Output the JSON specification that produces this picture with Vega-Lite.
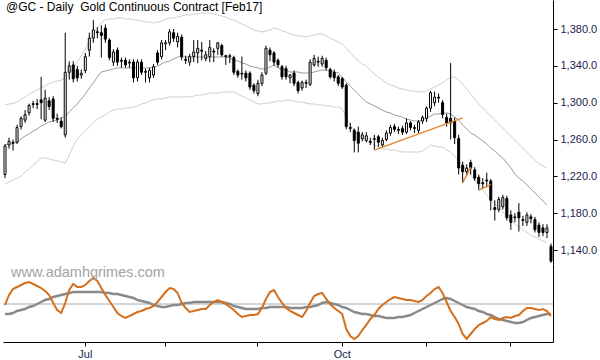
{
"$schema": "https://vega.github.io/schema/vega-lite/v6.json",
"padding": 0,
"spacing": 0,
"background": "white",
"config": {"view": {"stroke": null}, "font": "Liberation Sans", "axis": {"labelFont": "Liberation Sans", "labelFontSize": 11, "labelColor": "#22224f", "domainColor": "#000", "tickColor": "#000", "grid": false, "title": null}},
"datasets": {
"trend": [
{"seg":"a","d":"2016-10-13","p":1248.5},{"seg":"a","d":"2016-11-14","p":1283.5},
{"seg":"b","d":"2016-11-14","p":1213},{"seg":"b","d":"2016-11-16","p":1230},
{"seg":"c","d":"2016-11-18","p":1205},{"seg":"c","d":"2016-11-23","p":1211}
],
"bars": [
{"d":"2016-06-03","o":1222,"h":1255,"lo":1218,"c":1253,"mid":1254.0,"up":1297.5,"dn":1211.7,"k1":-1,"k2":-10},
{"d":"2016-06-06","o":1254,"h":1262,"lo":1250,"c":1258,"mid":1255.1,"up":1298.6,"dn":1213.8,"k1":9,"k2":-10},
{"d":"2016-06-07","o":1257,"h":1260,"lo":1248,"c":1256,"mid":1255.7,"up":1299.1,"dn":1216.0,"k1":15,"k2":-9},
{"d":"2016-06-08","o":1257,"h":1276,"lo":1255,"c":1273,"mid":1257.3,"up":1300.7,"dn":1218.2,"k1":17,"k2":-7},
{"d":"2016-06-09","o":1274,"h":1285,"lo":1271,"c":1283,"mid":1260.5,"up":1304.0,"dn":1220.4,"k1":19,"k2":-6},
{"d":"2016-06-10","o":1281,"h":1292,"lo":1278,"c":1287,"mid":1263.8,"up":1306.2,"dn":1224.7,"k1":21,"k2":-5},
{"d":"2016-06-13","o":1289,"h":1299,"lo":1286,"c":1297,"mid":1266.0,"up":1309.4,"dn":1228.0,"k1":22,"k2":-3},
{"d":"2016-06-14","o":1298,"h":1302,"lo":1294,"c":1299,"mid":1269.2,"up":1311.6,"dn":1232.3,"k1":20,"k2":-2},
{"d":"2016-06-15","o":1299,"h":1304,"lo":1293,"c":1298,"mid":1271.4,"up":1313.8,"dn":1235.6,"k1":18,"k2":0},
{"d":"2016-06-16","o":1303,"h":1328,"lo":1282,"c":1300,"mid":1274.7,"up":1315.9,"dn":1239.9,"k1":16,"k2":2},
{"d":"2016-06-17","o":1281,"h":1314,"lo":1279,"c":1305,"mid":1276.8,"up":1318.1,"dn":1239.9,"k1":13,"k2":4},
{"d":"2016-06-20","o":1302,"h":1306,"lo":1292,"c":1296,"mid":1279.0,"up":1320.3,"dn":1238.8,"k1":9,"k2":5},
{"d":"2016-06-21","o":1304,"h":1307,"lo":1279,"c":1283,"mid":1280.1,"up":1322.4,"dn":1237.7,"k1":1,"k2":7},
{"d":"2016-06-22","o":1283,"h":1288,"lo":1278,"c":1282,"mid":1281.2,"up":1323.5,"dn":1236.7,"k1":-6,"k2":8},
{"d":"2016-06-23","o":1280,"h":1284,"lo":1272,"c":1274,"mid":1283.4,"up":1324.6,"dn":1235.6,"k1":-9,"k2":9},
{"d":"2016-06-24","o":1265,"h":1376,"lo":1262,"c":1333,"mid":1285.5,"up":1326.8,"dn":1234.5,"k1":1,"k2":10},
{"d":"2016-06-27","o":1333,"h":1345,"lo":1325,"c":1340,"mid":1289.9,"up":1331.1,"dn":1243.2,"k1":14,"k2":11},
{"d":"2016-06-28","o":1341,"h":1345,"lo":1322,"c":1326,"mid":1294.2,"up":1337.7,"dn":1252.9,"k1":20,"k2":12},
{"d":"2016-06-29","o":1336,"h":1340,"lo":1323,"c":1327,"mid":1298.6,"up":1344.2,"dn":1260.5,"k1":17,"k2":12},
{"d":"2016-06-30","o":1330,"h":1336,"lo":1326,"c":1332,"mid":1304.0,"up":1350.7,"dn":1264.9,"k1":17,"k2":12},
{"d":"2016-07-01","o":1335,"h":1354,"lo":1332,"c":1350,"mid":1309.4,"up":1358.3,"dn":1269.2,"k1":19,"k2":12},
{"d":"2016-07-05","o":1357,"h":1376,"lo":1350,"c":1370,"mid":1315.9,"up":1367.0,"dn":1273.6,"k1":23,"k2":12},
{"d":"2016-07-06","o":1370,"h":1390,"lo":1365,"c":1379,"mid":1321.4,"up":1375.7,"dn":1277.9,"k1":26,"k2":12},
{"d":"2016-07-07","o":1377,"h":1382,"lo":1370,"c":1376,"mid":1327.9,"up":1381.1,"dn":1282.3,"k1":23,"k2":12},
{"d":"2016-07-08","o":1376,"h":1384,"lo":1349,"c":1373,"mid":1333.3,"up":1386.5,"dn":1284.4,"k1":16,"k2":12},
{"d":"2016-07-11","o":1381,"h":1385,"lo":1365,"c":1369,"mid":1334.4,"up":1389.8,"dn":1286.6,"k1":9,"k2":11},
{"d":"2016-07-12","o":1368,"h":1370,"lo":1346,"c":1349,"mid":1335.5,"up":1390.9,"dn":1289.9,"k1":3,"k2":11},
{"d":"2016-07-13","o":1344,"h":1358,"lo":1340,"c":1355,"mid":1336.6,"up":1390.9,"dn":1292.0,"k1":-3,"k2":10},
{"d":"2016-07-14","o":1357,"h":1360,"lo":1340,"c":1344,"mid":1337.7,"up":1392.0,"dn":1293.1,"k1":-9,"k2":10},
{"d":"2016-07-15","o":1346,"h":1349,"lo":1338,"c":1345,"mid":1337.7,"up":1392.0,"dn":1293.1,"k1":-12,"k2":9},
{"d":"2016-07-18","o":1346,"h":1349,"lo":1338,"c":1341,"mid":1337.7,"up":1390.9,"dn":1294.2,"k1":-14,"k2":8},
{"d":"2016-07-19","o":1343,"h":1347,"lo":1338,"c":1344,"mid":1337.7,"up":1390.9,"dn":1294.2,"k1":-12,"k2":7},
{"d":"2016-07-20","o":1344,"h":1347,"lo":1322,"c":1327,"mid":1337.7,"up":1389.8,"dn":1295.3,"k1":-10,"k2":6},
{"d":"2016-07-21","o":1327,"h":1347,"lo":1323,"c":1344,"mid":1337.7,"up":1389.8,"dn":1296.4,"k1":-8,"k2":4},
{"d":"2016-07-22","o":1344,"h":1347,"lo":1330,"c":1333,"mid":1337.7,"up":1388.7,"dn":1298.6,"k1":-7,"k2":3},
{"d":"2016-07-25","o":1333,"h":1337,"lo":1322,"c":1334,"mid":1337.7,"up":1387.6,"dn":1299.6,"k1":-5,"k2":2},
{"d":"2016-07-26","o":1327,"h":1338,"lo":1322,"c":1335,"mid":1337.7,"up":1387.6,"dn":1301.8,"k1":-4,"k2":1},
{"d":"2016-07-27","o":1330,"h":1342,"lo":1327,"c":1339,"mid":1338.7,"up":1386.5,"dn":1302.9,"k1":-2,"k2":-1},
{"d":"2016-07-28","o":1354,"h":1357,"lo":1341,"c":1344,"mid":1339.8,"up":1387.6,"dn":1304.0,"k1":2,"k2":-2},
{"d":"2016-07-29","o":1350,"h":1368,"lo":1347,"c":1365,"mid":1342.0,"up":1388.7,"dn":1304.0,"k1":7,"k2":-3},
{"d":"2016-08-01","o":1364,"h":1368,"lo":1357,"c":1365,"mid":1344.2,"up":1390.9,"dn":1305.1,"k1":12,"k2":-3},
{"d":"2016-08-02","o":1365,"h":1380,"lo":1362,"c":1377,"mid":1345.3,"up":1392.0,"dn":1306.2,"k1":16,"k2":-2},
{"d":"2016-08-03","o":1376,"h":1380,"lo":1366,"c":1370,"mid":1347.4,"up":1392.0,"dn":1306.2,"k1":15,"k2":-1},
{"d":"2016-08-04","o":1366,"h":1376,"lo":1360,"c":1372,"mid":1349.6,"up":1393.0,"dn":1306.2,"k1":11,"k2":-1},
{"d":"2016-08-05","o":1371,"h":1374,"lo":1346,"c":1350,"mid":1349.6,"up":1394.1,"dn":1306.2,"k1":1,"k2":0},
{"d":"2016-08-08","o":1347,"h":1351,"lo":1342,"c":1346,"mid":1349.6,"up":1395.2,"dn":1306.2,"k1":-4,"k2":1},
{"d":"2016-08-09","o":1344,"h":1353,"lo":1340,"c":1350,"mid":1349.6,"up":1395.2,"dn":1306.2,"k1":-8,"k2":1},
{"d":"2016-08-10","o":1350,"h":1368,"lo":1344,"c":1355,"mid":1349.6,"up":1396.3,"dn":1307.2,"k1":-7,"k2":2},
{"d":"2016-08-11","o":1354,"h":1368,"lo":1343,"c":1359,"mid":1349.6,"up":1396.3,"dn":1308.3,"k1":-6,"k2":2},
{"d":"2016-08-12","o":1357,"h":1366,"lo":1346,"c":1356,"mid":1349.6,"up":1397.4,"dn":1308.3,"k1":-5,"k2":2},
{"d":"2016-08-15","o":1348,"h":1356,"lo":1345,"c":1352,"mid":1349.6,"up":1397.4,"dn":1309.4,"k1":-5,"k2":2},
{"d":"2016-08-16","o":1350,"h":1368,"lo":1344,"c":1360,"mid":1349.6,"up":1397.4,"dn":1310.5,"k1":-1,"k2":2},
{"d":"2016-08-17","o":1356,"h":1359,"lo":1344,"c":1355,"mid":1349.6,"up":1396.3,"dn":1310.5,"k1":2,"k2":2},
{"d":"2016-08-18","o":1359,"h":1366,"lo":1352,"c":1365,"mid":1349.6,"up":1395.2,"dn":1310.5,"k1":4,"k2":2},
{"d":"2016-08-19","o":1362,"h":1364,"lo":1350,"c":1352,"mid":1349.6,"up":1394.1,"dn":1311.6,"k1":2,"k2":2},
{"d":"2016-08-22","o":1351,"h":1352,"lo":1341,"c":1350,"mid":1349.6,"up":1393.0,"dn":1311.6,"k1":0,"k2":1},
{"d":"2016-08-23","o":1350,"h":1353,"lo":1343,"c":1351,"mid":1348.5,"up":1390.9,"dn":1311.6,"k1":-3,"k2":0},
{"d":"2016-08-24","o":1349,"h":1351,"lo":1330,"c":1333,"mid":1346.3,"up":1389.8,"dn":1311.6,"k1":-6,"k2":-2},
{"d":"2016-08-25","o":1334,"h":1336,"lo":1327,"c":1330,"mid":1345.3,"up":1387.6,"dn":1309.4,"k1":-10,"k2":-3},
{"d":"2016-08-26","o":1331,"h":1350,"lo":1325,"c":1332,"mid":1343.1,"up":1385.4,"dn":1307.2,"k1":-13,"k2":-4},
{"d":"2016-08-29","o":1332,"h":1335,"lo":1323,"c":1327,"mid":1342.0,"up":1383.3,"dn":1305.1,"k1":-12,"k2":-5},
{"d":"2016-08-30","o":1332,"h":1334,"lo":1314,"c":1317,"mid":1339.8,"up":1381.1,"dn":1302.9,"k1":-11,"k2":-5},
{"d":"2016-08-31","o":1319,"h":1321,"lo":1310,"c":1313,"mid":1338.7,"up":1378.9,"dn":1300.7,"k1":-11,"k2":-5},
{"d":"2016-09-01","o":1310,"h":1325,"lo":1307,"c":1321,"mid":1337.7,"up":1377.8,"dn":1298.6,"k1":-10,"k2":-5},
{"d":"2016-09-02","o":1321,"h":1333,"lo":1318,"c":1330,"mid":1336.6,"up":1376.7,"dn":1298.6,"k1":-4,"k2":-4},
{"d":"2016-09-06","o":1332,"h":1362,"lo":1330,"c":1359,"mid":1336.6,"up":1377.8,"dn":1299.6,"k1":5,"k2":-4},
{"d":"2016-09-07","o":1357,"h":1360,"lo":1345,"c":1352,"mid":1338.7,"up":1378.9,"dn":1299.6,"k1":12,"k2":-3},
{"d":"2016-09-08","o":1354,"h":1356,"lo":1340,"c":1344,"mid":1340.9,"up":1381.1,"dn":1300.7,"k1":14,"k2":-3},
{"d":"2016-09-09","o":1346,"h":1348,"lo":1338,"c":1341,"mid":1337.7,"up":1380.0,"dn":1301.8,"k1":7,"k2":-3},
{"d":"2016-09-12","o":1339,"h":1341,"lo":1325,"c":1328,"mid":1336.6,"up":1377.8,"dn":1301.8,"k1":1,"k2":-3},
{"d":"2016-09-13","o":1337,"h":1340,"lo":1325,"c":1328,"mid":1335.5,"up":1376.7,"dn":1302.9,"k1":-4,"k2":-3},
{"d":"2016-09-14","o":1327,"h":1331,"lo":1321,"c":1330,"mid":1333.3,"up":1374.6,"dn":1302.9,"k1":-7,"k2":-4},
{"d":"2016-09-15","o":1332,"h":1335,"lo":1318,"c":1321,"mid":1333.3,"up":1373.5,"dn":1301.8,"k1":-9,"k2":-4},
{"d":"2016-09-16","o":1322,"h":1324,"lo":1310,"c":1313,"mid":1333.3,"up":1372.4,"dn":1300.7,"k1":-11,"k2":-4},
{"d":"2016-09-19","o":1316,"h":1324,"lo":1313,"c":1322,"mid":1332.2,"up":1372.4,"dn":1300.7,"k1":-13,"k2":-4},
{"d":"2016-09-20","o":1321,"h":1325,"lo":1316,"c":1322,"mid":1332.2,"up":1371.3,"dn":1299.6,"k1":-7,"k2":-3},
{"d":"2016-09-21","o":1320,"h":1347,"lo":1318,"c":1344,"mid":1332.2,"up":1372.4,"dn":1298.6,"k1":1,"k2":-3},
{"d":"2016-09-22","o":1341,"h":1352,"lo":1339,"c":1348,"mid":1333.3,"up":1373.5,"dn":1298.6,"k1":8,"k2":-2},
{"d":"2016-09-23","o":1345,"h":1350,"lo":1339,"c":1344,"mid":1334.4,"up":1374.6,"dn":1297.5,"k1":10,"k2":-1},
{"d":"2016-09-26","o":1342,"h":1351,"lo":1339,"c":1348,"mid":1335.5,"up":1374.6,"dn":1297.5,"k1":11,"k2":1},
{"d":"2016-09-27","o":1346,"h":1349,"lo":1335,"c":1338,"mid":1335.5,"up":1372.4,"dn":1296.4,"k1":5,"k2":2},
{"d":"2016-09-28","o":1336,"h":1338,"lo":1326,"c":1328,"mid":1334.4,"up":1370.2,"dn":1296.4,"k1":0,"k2":1},
{"d":"2016-09-29","o":1333,"h":1336,"lo":1323,"c":1327,"mid":1333.3,"up":1368.1,"dn":1295.3,"k1":-4,"k2":0},
{"d":"2016-09-30","o":1328,"h":1330,"lo":1318,"c":1321,"mid":1332.2,"up":1365.9,"dn":1295.3,"k1":-7,"k2":-1},
{"d":"2016-10-03","o":1326,"h":1328,"lo":1315,"c":1317,"mid":1327.9,"up":1363.7,"dn":1293.1,"k1":-10,"k2":-3},
{"d":"2016-10-04","o":1319,"h":1321,"lo":1271,"c":1274,"mid":1322.4,"up":1359.4,"dn":1284.4,"k1":-25,"k2":-4},
{"d":"2016-10-05","o":1273,"h":1278,"lo":1268,"c":1272,"mid":1318.1,"up":1353.9,"dn":1275.8,"k1":-32,"k2":-6},
{"d":"2016-10-06","o":1270,"h":1272,"lo":1246,"c":1259,"mid":1313.8,"up":1349.6,"dn":1270.3,"k1":-35,"k2":-8},
{"d":"2016-10-07","o":1268,"h":1274,"lo":1246,"c":1256,"mid":1309.4,"up":1345.3,"dn":1264.9,"k1":-32,"k2":-9},
{"d":"2016-10-10","o":1261,"h":1268,"lo":1258,"c":1265,"mid":1305.1,"up":1342.0,"dn":1261.6,"k1":-26,"k2":-10},
{"d":"2016-10-11","o":1259,"h":1268,"lo":1257,"c":1264,"mid":1300.7,"up":1339.8,"dn":1258.4,"k1":-21,"k2":-10},
{"d":"2016-10-12","o":1258,"h":1262,"lo":1254,"c":1257,"mid":1298.6,"up":1335.5,"dn":1256.2,"k1":-15,"k2":-11},
{"d":"2016-10-13","o":1260,"h":1265,"lo":1249,"c":1261,"mid":1296.4,"up":1331.1,"dn":1254.0,"k1":-11,"k2":-12},
{"d":"2016-10-14","o":1263,"h":1265,"lo":1252,"c":1257,"mid":1294.2,"up":1327.9,"dn":1251.9,"k1":-5,"k2":-12},
{"d":"2016-10-17","o":1254,"h":1262,"lo":1252,"c":1259,"mid":1292.0,"up":1324.6,"dn":1249.7,"k1":-1,"k2":-13},
{"d":"2016-10-18","o":1260,"h":1270,"lo":1258,"c":1267,"mid":1289.9,"up":1321.4,"dn":1249.7,"k1":2,"k2":-14},
{"d":"2016-10-19","o":1267,"h":1276,"lo":1264,"c":1273,"mid":1288.8,"up":1319.2,"dn":1248.6,"k1":5,"k2":-14},
{"d":"2016-10-20","o":1274,"h":1277,"lo":1268,"c":1271,"mid":1286.6,"up":1318.1,"dn":1248.6,"k1":7,"k2":-14},
{"d":"2016-10-21","o":1271,"h":1274,"lo":1266,"c":1270,"mid":1285.5,"up":1315.9,"dn":1247.5,"k1":6,"k2":-13},
{"d":"2016-10-24","o":1272,"h":1275,"lo":1265,"c":1268,"mid":1284.4,"up":1314.8,"dn":1246.4,"k1":5,"k2":-13},
{"d":"2016-10-25","o":1268,"h":1283,"lo":1266,"c":1278,"mid":1282.3,"up":1313.8,"dn":1246.4,"k1":4,"k2":-12},
{"d":"2016-10-26","o":1278,"h":1280,"lo":1270,"c":1273,"mid":1281.2,"up":1312.7,"dn":1246.4,"k1":4,"k2":-11},
{"d":"2016-10-27","o":1273,"h":1276,"lo":1267,"c":1272,"mid":1280.1,"up":1312.7,"dn":1246.4,"k1":3,"k2":-9},
{"d":"2016-10-28","o":1270,"h":1281,"lo":1267,"c":1279,"mid":1280.1,"up":1311.6,"dn":1246.4,"k1":2,"k2":-7},
{"d":"2016-10-31","o":1280,"h":1286,"lo":1277,"c":1284,"mid":1281.2,"up":1311.6,"dn":1247.5,"k1":4,"k2":-5},
{"d":"2016-11-01","o":1283,"h":1296,"lo":1279,"c":1294,"mid":1283.4,"up":1312.7,"dn":1250.8,"k1":8,"k2":-3},
{"d":"2016-11-02","o":1294,"h":1313,"lo":1290,"c":1311,"mid":1285.5,"up":1314.8,"dn":1254.0,"k1":11,"k2":-1},
{"d":"2016-11-03","o":1300,"h":1312,"lo":1296,"c":1306,"mid":1287.7,"up":1317.0,"dn":1252.9,"k1":15,"k2":1},
{"d":"2016-11-04","o":1306,"h":1310,"lo":1300,"c":1305,"mid":1287.7,"up":1319.2,"dn":1251.9,"k1":17,"k2":3},
{"d":"2016-11-07","o":1300,"h":1303,"lo":1283,"c":1287,"mid":1288.8,"up":1321.4,"dn":1251.9,"k1":11,"k2":5},
{"d":"2016-11-08","o":1284,"h":1288,"lo":1274,"c":1278,"mid":1288.8,"up":1324.6,"dn":1248.6,"k1":2,"k2":6},
{"d":"2016-11-09","o":1283,"h":1343,"lo":1260,"c":1278,"mid":1287.7,"up":1327.9,"dn":1246.4,"k1":-7,"k2":5},
{"d":"2016-11-10","o":1280,"h":1284,"lo":1255,"c":1262,"mid":1284.4,"up":1327.9,"dn":1242.1,"k1":-13,"k2":3},
{"d":"2016-11-11","o":1261,"h":1265,"lo":1222,"c":1229,"mid":1281.2,"up":1324.6,"dn":1236.7,"k1":-20,"k2":1},
{"d":"2016-11-14","o":1232,"h":1236,"lo":1213,"c":1225,"mid":1275.8,"up":1320.3,"dn":1232.3,"k1":-30,"k2":-1},
{"d":"2016-11-15","o":1225,"h":1233,"lo":1220,"c":1229,"mid":1271.4,"up":1314.8,"dn":1226.9,"k1":-35,"k2":-3},
{"d":"2016-11-16","o":1235,"h":1238,"lo":1222,"c":1229,"mid":1267.1,"up":1309.4,"dn":1221.4,"k1":-30,"k2":-4},
{"d":"2016-11-17","o":1227,"h":1230,"lo":1215,"c":1218,"mid":1264.9,"up":1304.0,"dn":1216.0,"k1":-25,"k2":-5},
{"d":"2016-11-18","o":1219,"h":1222,"lo":1205,"c":1212,"mid":1261.6,"up":1298.6,"dn":1210.6,"k1":-21,"k2":-7},
{"d":"2016-11-21","o":1213,"h":1218,"lo":1207,"c":1212,"mid":1258.4,"up":1294.2,"dn":1205.2,"k1":-19,"k2":-8},
{"d":"2016-11-22","o":1216,"h":1224,"lo":1208,"c":1215,"mid":1255.1,"up":1289.9,"dn":1199.7,"k1":-17,"k2":-10},
{"d":"2016-11-23","o":1215,"h":1217,"lo":1183,"c":1194,"mid":1250.8,"up":1285.5,"dn":1194.3,"k1":-13,"k2":-11},
{"d":"2016-11-25","o":1186,"h":1194,"lo":1172,"c":1184,"mid":1247.5,"up":1281.2,"dn":1190.0,"k1":-15,"k2":-13},
{"d":"2016-11-28","o":1184,"h":1198,"lo":1181,"c":1195,"mid":1243.2,"up":1276.8,"dn":1185.6,"k1":-16,"k2":-15},
{"d":"2016-11-29","o":1187,"h":1200,"lo":1184,"c":1197,"mid":1239.9,"up":1272.5,"dn":1181.3,"k1":-14,"k2":-16},
{"d":"2016-11-30","o":1196,"h":1199,"lo":1172,"c":1175,"mid":1234.5,"up":1268.2,"dn":1176.9,"k1":-13,"k2":-17},
{"d":"2016-12-01","o":1178,"h":1183,"lo":1162,"c":1170,"mid":1229.1,"up":1263.8,"dn":1172.6,"k1":-14,"k2":-18},
{"d":"2016-12-02","o":1175,"h":1180,"lo":1170,"c":1176,"mid":1222.5,"up":1259.5,"dn":1168.2,"k1":-12,"k2":-19},
{"d":"2016-12-05","o":1181,"h":1191,"lo":1160,"c":1175,"mid":1218.2,"up":1255.1,"dn":1165.0,"k1":-11,"k2":-19},
{"d":"2016-12-06","o":1173,"h":1177,"lo":1166,"c":1172,"mid":1214.9,"up":1250.8,"dn":1161.7,"k1":-7,"k2":-18},
{"d":"2016-12-07","o":1170,"h":1181,"lo":1166,"c":1178,"mid":1210.6,"up":1246.4,"dn":1159.5,"k1":-4,"k2":-16},
{"d":"2016-12-08","o":1176,"h":1179,"lo":1169,"c":1174,"mid":1206.3,"up":1242.1,"dn":1156.3,"k1":-4,"k2":-14},
{"d":"2016-12-09","o":1173,"h":1176,"lo":1159,"c":1162,"mid":1201.9,"up":1237.7,"dn":1154.1,"k1":-5,"k2":-13},
{"d":"2016-12-12","o":1167,"h":1170,"lo":1154,"c":1159,"mid":1197.6,"up":1233.4,"dn":1151.9,"k1":-6,"k2":-12},
{"d":"2016-12-13","o":1164,"h":1168,"lo":1155,"c":1159,"mid":1193.2,"up":1231.2,"dn":1149.8,"k1":-5,"k2":-11},
{"d":"2016-12-14","o":1159,"h":1168,"lo":1153,"c":1164,"mid":1188.9,"up":1229.1,"dn":1147.6,"k1":-7,"k2":-10},
{"d":"2016-12-15","o":1144,"h":1147,"lo":1126,"c":1128,"mid":null,"up":null,"dn":null,"k1":-12,"k2":-10}
]
},
"vconcat": [
{
"width": 550,
"height": 264,
"title": {"text": "@GC - Daily\u00a0 Gold Continuous Contract [Feb17]", "anchor": "start", "frame": "group", "offset": -14, "dx": 3, "fontSize": 12, "fontWeight": "normal", "font": "Liberation Sans", "color": "#000"},
"data": {"name": "bars"},
"encoding": {"x": {"field": "d", "type": "ordinal", "scale": {"type": "band", "paddingInner": 0, "paddingOuter": 0}, "axis": null}},
"layer": [
{"mark": {"type": "line", "color": "#cfcfcf", "strokeWidth": 1}, "encoding": {"y": {"field": "up", "type": "quantitative", "scale": {"domain": [1124.8, 1411.5], "nice": false, "zero": false}, "axis": {"orient": "right", "values": [1140,1160,1180,1200,1220,1240,1260,1280,1300,1320,1340,1360,1380,1400], "labelExpr": "datum.value % 40 == 0 ? '' : format(datum.value, ',.1f')", "labelOverlap": false, "tickSize": 4, "labelPadding": 3, "title": null}}}},
{"mark": {"type": "line", "color": "#cfcfcf", "strokeWidth": 1}, "encoding": {"y": {"field": "dn", "type": "quantitative"}}},
{"mark": {"type": "line", "color": "#9c9c9c", "strokeWidth": 1}, "encoding": {"y": {"field": "mid", "type": "quantitative"}}},
{"mark": {"type": "rule", "color": "#000", "strokeWidth": 1}, "encoding": {"y": {"field": "lo", "type": "quantitative"}, "y2": {"field": "h"}}},
{"mark": {"type": "bar", "size": 2, "stroke": "#000", "strokeWidth": 1}, "encoding": {"y": {"field": "o", "type": "quantitative"}, "y2": {"field": "c"}, "fill": {"condition": {"test": "datum.c < datum.o", "value": "#000"}, "value": "#fff"}}},
{"data": {"name": "trend"}, "mark": {"type": "line", "color": "#e0852c", "strokeWidth": 1.4}, "encoding": {"y": {"field": "p", "type": "quantitative"}, "detail": {"field": "seg"}}}
]
},
{
"width": 550,
"height": 78,
"title": {"text": "www.adamhgrimes.com", "anchor": "start", "frame": "group", "offset": -16, "dx": 8, "fontSize": 14.5, "fontWeight": "normal", "font": "Liberation Sans", "color": "#a3a3a3"},
"layer": [
{"data": {"values": [{"z": 0}]}, "mark": {"type": "rule", "color": "#aaaaaa", "strokeWidth": 1}, "encoding": {"y": {"field": "z", "type": "quantitative", "scale": {"domain": [-38, 40], "nice": false, "zero": false}, "axis": {"orient": "right", "labels": false, "ticks": false, "title": null}}}},
{"data": {"name": "bars"}, "mark": {"type": "line", "color": "#8a8a8a", "strokeWidth": 2.5}, "encoding": {"x": {"field": "d", "type": "ordinal", "scale": {"type": "band", "paddingInner": 0, "paddingOuter": 0}, "axis": {"orient": "bottom", "values": ["2016-07-01","2016-08-01","2016-09-01","2016-10-03","2016-11-01","2016-12-01"], "labelExpr": "datum.value == '2016-07-01' ? 'Jul' : datum.value == '2016-10-03' ? 'Oct' : ''", "labelAngle": 0, "labelOverlap": false, "tickSize": 4, "labelPadding": 2, "title": null}}, "y": {"field": "k2", "type": "quantitative"}}},
{"data": {"name": "bars"}, "mark": {"type": "line", "color": "#d4701d", "strokeWidth": 2}, "encoding": {"x": {"field": "d", "type": "ordinal"}, "y": {"field": "k1", "type": "quantitative"}}}
]
}
]
}
